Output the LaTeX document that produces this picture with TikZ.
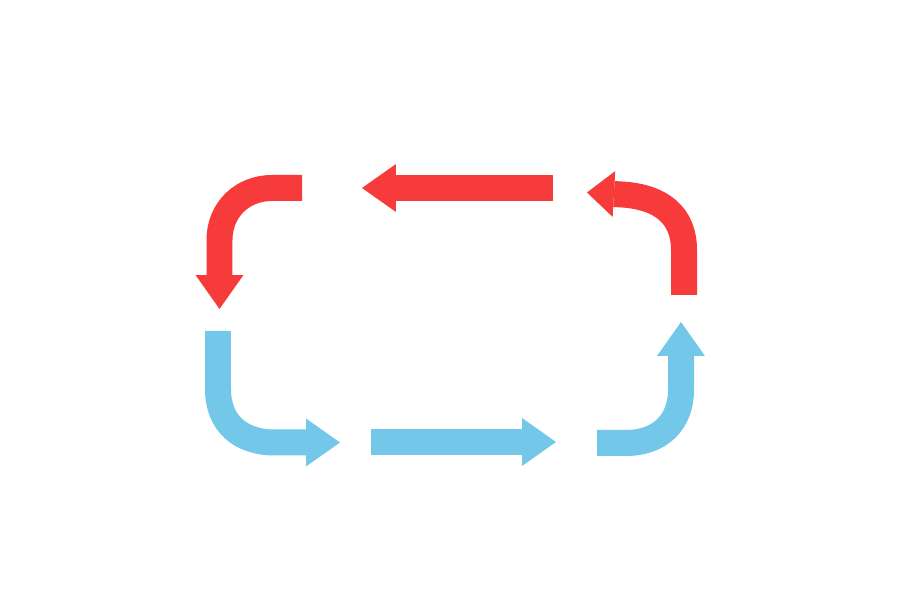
\documentclass[tikz,border=0pt]{standalone}
\usetikzlibrary{arrows.meta}
\definecolor{hotred}{RGB}{247,59,59}
\definecolor{coolblue}{RGB}{115,200,234}
\begin{document}
\begin{tikzpicture}[x=0.02cm, y=-0.02cm, line cap=butt, line join=miter,
		>={Triangle[width=0.96cm, length=0.68cm, line width=0pt]},
		flow/.style={->, line width=0.52cm}]
			\useasboundingbox (0,0) rectangle (900,590);
			% red half
			\draw[flow, hotred] (553,188) -- (362,188);
			\draw[flow, hotred] (302,188) -- (272,188) .. controls (242,188) and (219.5,210) .. (219.5,240) -- (219.5,309);
			\draw[flow, hotred, -{Triangle[width=0.92cm, length=0.54cm, line width=0pt]}] (684,295) -- (684,250) .. controls (684,216) and (662,197) .. (622,194.5) -- (587,192.5);
			% blue half
			\draw[flow, coolblue] (371,442) -- (556,442);
			\draw[flow, coolblue] (218,331) -- (218,389) .. controls (218,423) and (240,442.5) .. (275,442.5) -- (340,442.5);
			\draw[flow, coolblue] (597,443) -- (626,443) .. controls (660,443) and (681,422) .. (681,390) -- (681,322);
			
		\end{tikzpicture}
\end{document}
